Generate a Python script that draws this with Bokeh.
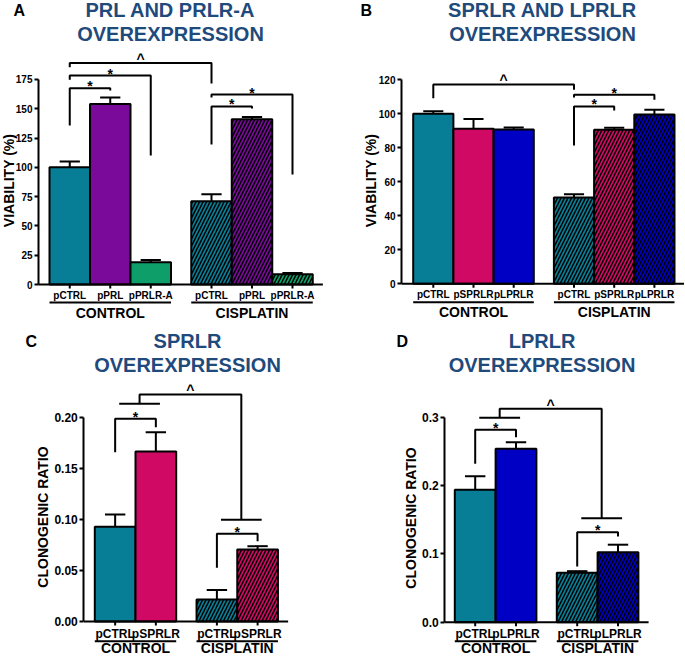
import math
from bokeh.plotting import figure
from bokeh.models import Range1d, FixedTicker, LinearAxis, ColumnDataSource, NumeralTickFormatter
from bokeh.layouts import column, row
from bokeh.embed import file_html
from bokeh.resources import INLINE
from bokeh.core.properties import value

# ---------------- data ----------------
groups = ["CONTROL", "CISPLATIN"]

a_cats = ["pCTRL", "pPRL", "pPRLR-A"]
a_control = [100, 154, 19]
a_control_err = [5, 5.5, 2]
a_cisplatin = [71, 141, 8.8]
a_cisplatin_err = [6, 2, 1]
a_ticks = [0, 25, 50, 75, 100, 125, 150, 175]

b_cats = ["pCTRL", "pSPRLR", "pLPRLR"]
b_control = [100, 91.2, 90.8]
b_control_err = [1.5, 5.8, 1.2]
b_cisplatin = [50.8, 90.6, 99.6]
b_cisplatin_err = [1.9, 1.2, 2.8]
b_ticks = [0, 20, 40, 60, 80, 100, 120]

c_cats = ["pCTRL", "pSPRLR"]
c_control = [0.093, 0.167]
c_control_err = [0.012, 0.019]
c_cisplatin = [0.0215, 0.0707]
c_cisplatin_err = [0.0095, 0.0033]
c_ticks = [0, 0.05, 0.10, 0.15, 0.20]

d_cats = ["pCTRL", "pLPRLR"]
d_control = [0.1935, 0.2535]
d_control_err = [0.02, 0.0095]
d_cisplatin = [0.0722, 0.1023]
d_cisplatin_err = [0.0024, 0.011]
d_ticks = [0, 0.1, 0.2, 0.3]

TEAL = "#087e96"
PURPLE = "#7a0a9a"
GREEN = "#0e9e6a"
MAGENTA = "#d00a64"
BLUE = "#0000c4"
TITLE_BLUE = "#1f4a7c"
FONT = "Liberation Sans"
K = 0.3  # baseline correction (fraction of font size)

# significance brackets: (x_left, x_right, y_top, y_left_end, y_right_end, symbol)
a_brackets = [(0, 1, 167.5, 135.7, 165.5, "*"), (0, 2, 178.3, 174.7, 110, "*"),
              (0, 3.5, 188.9, 185.4, 171.5, "^"), (3.5, 4.5, 151.9, 119.5, 150.2, "*"),
              (3.5, 5.5, 162.1, 159.6, 93.9, "*")]
b_brackets = [(0, 3.5, 117.2, 109.2, 114.1, "^"), (3.5, 4.5, 104.3, 81.4, 101.9, "*"),
              (3.5, 5.5, 111.2, 109.6, 108.2, "*")]
c_brackets = [(0, 1, 0.1991, 0.1663, 0.1909, "*"), (2.5, 3.5, 0.0861, 0.0528, 0.0789, "*")]
d_brackets = [(0, 1, 0.2813, 0.2316, 0.2705, "*"), (2.5, 3.5, 0.1316, 0.0814, 0.1253, "*")]
# group-to-group link: (y control bar, y peak, y cisplatin bar)
c_link = (0.2139, 0.223, 0.0999)
d_link = (0.2988, 0.312, 0.152)


def build(g, cats, ctrl, ctrl_err, cis, cis_err, colors, ticks, fmt, ylabel,
          title, letter, brackets, link):
    xr = Range1d(-g["x0"] / g["xs"], (g["w"] - g["x0"]) / g["xs"])
    yr = Range1d(-(g["h"] - g["y0"]) / g["ys"], g["y0"] / g["ys"])
    p = figure(width=g["w"], height=g["h"], x_range=xr, y_range=yr,
               min_border_left=0, min_border_right=0, min_border_top=0,
               min_border_bottom=0, x_axis_location=None, y_axis_location=None,
               toolbar_location=None, output_backend="svg", outline_line_color=None)
    p.title = None
    p.grid.visible = False

    def X(bx):
        return xr.start + (bx - g["fx"]) / g["xs"]

    def Y(by):
        return yr.end - (by - g["fy"]) / g["ys"]

    def YT(by, fs):
        return Y(by - K * fs)

    axis_x = X(g["axis"])
    ax = LinearAxis(fixed_location=axis_x, bounds=(ticks[0], ticks[-1]),
                    ticker=FixedTicker(ticks=ticks, minor_ticks=[]),
                    formatter=NumeralTickFormatter(format=fmt))
    ax.axis_line_width = 2
    ax.axis_line_color = "black"
    ax.major_tick_line_width = 2
    ax.major_tick_out = 4
    ax.major_tick_in = 0
    ax.minor_tick_line_color = None
    ax.major_label_standoff = 2
    ax.major_label_text_font = FONT
    ax.major_label_text_font_style = "bold"
    ax.major_label_text_font_size = g["tick_size"]
    ax.major_label_text_color = "black"
    p.add_layout(ax, "left")

    n = len(cats)
    off = n + 0.5
    xc = [float(i) for i in range(n)]
    xcis = [i + off for i in range(n)]

    p.vbar(x="x", top="top", bottom=0, width=1,
           source=ColumnDataSource(dict(x=xc, top=ctrl, color=colors)),
           fill_color="color", line_color="black", line_width=2)
    p.vbar(x="x", top="top", bottom=0, width=1,
           source=ColumnDataSource(dict(x=xcis, top=cis, color=colors)),
           fill_color="color", line_color="black", line_width=2,
           hatch_pattern="/", hatch_color="black", hatch_scale=7, hatch_weight=1.5)

    ex = xc + xcis
    et = list(ctrl) + list(cis)
    ee = list(ctrl_err) + list(cis_err)
    ehi = [t + e for t, e in zip(et, ee)]
    p.segment(x0=ex, y0=et, x1=ex, y1=ehi, line_width=2, line_color="black")
    p.segment(x0=[x - 0.25 for x in ex], y0=ehi, x1=[x + 0.25 for x in ex], y1=ehi,
              line_width=2, line_color="black")

    # x axis line, ticks, labels
    p.segment(x0=[axis_x], y0=[0], x1=[xcis[-1] + 0.75], y1=[0], line_width=2,
              line_color="black")
    p.segment(x0=ex, y0=[0] * len(ex), x1=ex, y1=[-4 / g["ys"]] * len(ex),
              line_width=2, line_color="black")
    cs = g["cat_size"]
    p.text(x=ex, y=[YT(g["cat"], cs)] * len(ex), text=list(cats) * 2,
           text_font=value(FONT), text_font_style="bold", text_font_size=f"{cs}px",
           text_align="center", text_baseline="alphabetic", text_color="black")
    p.segment(x0=[-0.5, off - 0.5], x1=[n - 0.5, off + n - 0.5],
              y0=[Y(g["ul"])] * 2, y1=[Y(g["ul"])] * 2, line_width=2, line_color="black")
    p.text(x=[(n - 1) / 2, off + (n - 1) / 2], y=[YT(g["grp"], 14)] * 2, text=groups,
           text_font=value(FONT), text_font_style="bold", text_font_size="14px",
           text_align="center", text_baseline="alphabetic", text_color="black")

    # brackets
    bxs, bys, sx, sy, st = [], [], [], [], []
    raise_px = {"*": 2.0, "^": K * 14}
    for x1, x2, yt, yl, yrr, sym in brackets:
        bxs.append([x1, x1, x2, x2])
        bys.append([yl, yt, yt, yrr])
        sx.append((x1 + x2) / 2)
        sy.append(yt + raise_px[sym] / g["ys"])
        st.append(sym)
    if link is not None:
        y1, ypk, y2 = link
        bxs.append([0.1, 1.1]); bys.append([y1, y1])
        bxs.append([off + 0.1, off + 1.1]); bys.append([y2, y2])
        bxs.append([0.6, 0.6, off + 0.6, off + 0.6]); bys.append([y1, ypk, ypk, y2])
        sx.append((0.6 + off + 0.6) / 2); sy.append(ypk + raise_px["^"] / g["ys"])
        st.append("^")
    p.multi_line(xs=bxs, ys=bys, line_width=2, line_color="black")
    p.text(x=sx, y=sy, text=st, text_font=value(FONT), text_font_style="bold",
           text_font_size="14px", text_align="center", text_baseline="alphabetic",
           text_color="black")

    # title
    tx, tb1, tb2 = g["title"]
    p.text(x=[X(tx)] * 2, y=[YT(tb1, 20), YT(tb2, 20)], text=title, text_font=value(FONT),
           text_font_style="bold", text_font_size="20px", text_align="center",
           text_baseline="alphabetic", text_color=TITLE_BLUE)

    lx, lb = g["letter"]
    p.text(x=[X(lx)], y=[YT(lb, 16)], text=[letter], text_font=value(FONT),
           text_font_style="bold", text_font_size="16px", text_align="left",
           text_baseline="alphabetic", text_color="black")
    yx, yc = g["ylab"]
    p.text(x=[X(yx - K * 14)], y=[Y(yc)], text=[ylabel], angle=math.pi / 2,
           text_font=value(FONT), text_font_style="bold", text_font_size="14px",
           text_align="center", text_baseline="alphabetic", text_color="black")
    return p


GA = dict(fx=0, fy=0, w=342, h=327, x0=69.25, xs=40.5, y0=284, ys=1.172, axis=38,
          letter=(13, 15), title=(170, 15, 39), ylab=(12.5, 180), cat=298, ul=302,
          grp=317, cat_size=10, tick_size="10px")
GB = dict(fx=342, fy=0, w=342, h=327, x0=90.8, xs=40.2, y0=283.3, ys=1.70, axis=401,
          letter=(360, 15), title=(542, 15, 39), ylab=(375, 180), cat=297.3, ul=301.7,
          grp=315.5, cat_size=10, tick_size="10px")
GC = dict(fx=0, fy=327, w=342, h=328, x0=114.65, xs=40.7, y0=294, ys=1018, axis=83.3,
          letter=(25, 346), title=(187, 346.7, 370.7), ylab=(46.5, 516.5), cat=636.7,
          ul=640.7, grp=652, cat_size=12, tick_size="12px")
GD = dict(fx=342, fy=327, w=342, h=328, x0=132.7, xs=40.8, y0=294.7, ys=684, axis=444.3,
          letter=(396, 346), title=(541.5, 346.7, 370.7), ylab=(415, 517.5), cat=637.3,
          ul=640.7, grp=652, cat_size=12, tick_size="12px")

pA = build(GA, a_cats, a_control, a_control_err, a_cisplatin, a_cisplatin_err,
           [TEAL, PURPLE, GREEN], a_ticks, "0", "VIABILITY (%)",
           ["PRL AND PRLR-A", "OVEREXPRESSION"], "A", a_brackets, None)
pB = build(GB, b_cats, b_control, b_control_err, b_cisplatin, b_cisplatin_err,
           [TEAL, MAGENTA, BLUE], b_ticks, "0", "VIABILITY (%)",
           ["SPRLR AND LPRLR", "OVEREXPRESSION"], "B", b_brackets, None)
pC = build(GC, c_cats, c_control, c_control_err, c_cisplatin, c_cisplatin_err,
           [TEAL, MAGENTA], c_ticks, "0.00", "CLONOGENIC RATIO",
           ["SPRLR", "OVEREXPRESSION"], "C", c_brackets, c_link)
pD = build(GD, d_cats, d_control, d_control_err, d_cisplatin, d_cisplatin_err,
           [TEAL, BLUE], d_ticks, "0.0", "CLONOGENIC RATIO",
           ["LPRLR", "OVEREXPRESSION"], "D", d_brackets, d_link)

layout = column(row(pA, pB), row(pC, pD))
open("out.html", "w").write(file_html(layout, INLINE))
